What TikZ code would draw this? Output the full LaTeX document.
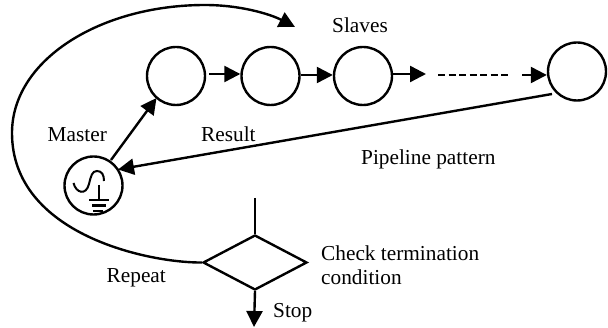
\documentclass[tikz,border=0pt]{standalone}
\usepackage{fontspec}
\setmainfont{Liberation Serif}
\usetikzlibrary{arrows.meta,shapes.geometric}
\tikzset{
 x=1pt,y=-1pt,
 ln/.style={line width=2.4pt,black},
 arr/.style={ln,-{Triangle[length=16pt,width=16pt]}},
 circ/.style={circle,draw,line width=2.4pt,minimum size=58pt,inner sep=0pt},
 lab/.style={font=\fontsize{21.3}{24}\selectfont,inner sep=0pt,anchor=base west},
}
\begin{document}
\begin{tikzpicture}
\useasboundingbox (0,0) rectangle (608,328);
\node[circ] (a) at (176,76) {};
\node[circ] (b) at (270.5,76) {};
\node[circ] (c) at (363,76) {};
\node[circ] (d) at (577,71.5) {};
\node[circ] (m) at (93.5,185.5) {};
\node[diamond,draw,line width=2.4pt,minimum width=104pt,minimum height=55pt,inner sep=0pt,aspect=1.9] (t) at (255,262.5) {};
\coordinate (d1) at (438,75);
\coordinate (d2) at (510,75);
\coordinate (d3) at (522,75);
\coordinate (c3end) at (426,74);
\coordinate (rs) at (552,94);
\coordinate (top) at (255,198);
\coordinate (stop) at (254,327);
\coordinate (rt) at (295,27);
% connectors
\draw[arr] (209,74) -- (b.west |- 0,74);
\draw[arr] (300.5,75) -- (c.west |- 0,75);
\draw[arr] (393,74) -- (c3end);
\draw[ln,dash pattern=on 7pt off 3.5pt] (d1) -- (d2);
\draw[arr] (d3) -- (d.west |- 0,75);
\draw[arr] (111,160) -- (156.5,98);
\draw[arr] (rs) -- (118,169.5);
\draw[ln] (top) -- (t.north);
\draw[arr] (t.south) -- (stop);
\draw[arr] (t.west) .. controls (150,263) and (12,235) .. (12,133) .. controls (12,60) and (100,5) .. (205,5) .. controls (240,5) and (270,14) .. (rt);
% sine + ground
\draw[line width=2pt] (73.5,183) .. controls (76,193) and (86,196) .. (89,184) .. controls (91,176) and (92,171) .. (97,171) .. controls (102,171) and (104,175) .. (104,181);
\draw[line width=2.4pt] (99,185) -- (99,199);
\draw[line width=2.4pt] (89,200) -- (109,200);
\draw[line width=2.4pt] (92,205.5) -- (106,205.5);
\draw[line width=2.4pt] (93,211) -- (103,211);
% labels
\node[lab] (l1) at (332,33) {Slaves};
\node[lab] (l2) at (47.5,142) {Master};
\node[lab] (l3) at (201,142) {Result};
\node[lab] (l4) at (361,165) {Pipeline pattern};
\node[lab] (l5) at (321,261) {Check termination};
\node[lab] (l6) at (321,285) {condition};
\node[lab] (l7) at (106.5,283) {Repeat};
\node[lab] (l8) at (273,318) {Stop};
\end{tikzpicture}
\end{document}
